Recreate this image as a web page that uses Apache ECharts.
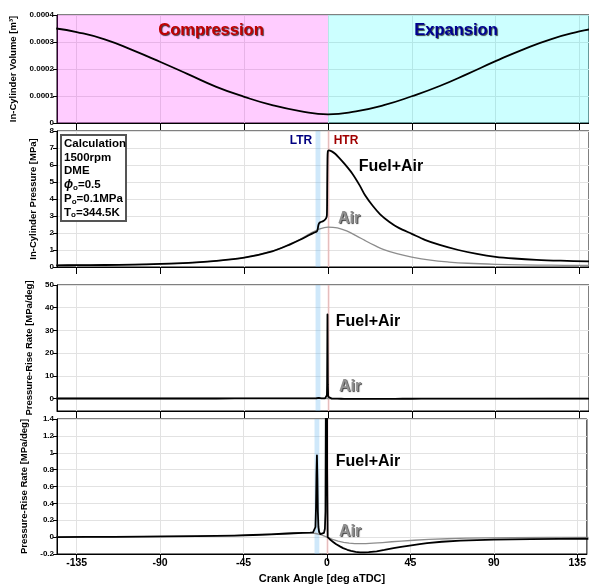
<!DOCTYPE html>
<html>
<head>
<meta charset="utf-8">
<script src="https://cdn.jsdelivr.net/npm/echarts@6/dist/echarts.min.js"></script>
<style>
  html, body { margin: 0; padding: 0; background: #fff; }
  #chart { width: 589px; height: 585px; }
</style>
</head>
<body>
<div id="chart"></div>
<script>
// ---- Crank-angle axis ----
const xTicks = [-135, -90, -45, 0, 45, 90, 135];

// ---- In-cylinder volume [m3] ----
const volAngle = [-146, -135, -120, -105, -90, -75, -60, -45, -30, -15, 0, 15, 30, 45, 60, 75, 90, 105, 120, 135, 141];
const volume   = [0.000350, 0.000337, 0.000310, 0.000270, 0.000226, 0.000180, 0.000134, 0.000097, 0.000066, 0.000044, 0.000032,
                  0.000043, 0.000066, 0.000099, 0.000137, 0.000182, 0.000229, 0.000273, 0.000311, 0.000339, 0.000347];

// ---- In-cylinder pressure [MPa] ----
const pFuelAngle = [-146, -135, -120, -105, -90, -75, -60, -45, -30, -20, -15, -10, -7, -6, -5.6, -5.2, -4.8, -4, -3, -2, -1, -0.6, -0.45, -0.3, -0.1,
                    0.4, 2, 4, 6, 9, 13, 17, 20, 24, 28, 33, 38, 45, 52, 60, 70, 80, 90, 100, 112, 125, 141];
const pFuel      = [0.10, 0.105, 0.117, 0.141, 0.18, 0.245, 0.36, 0.55, 0.92, 1.35, 1.6, 1.88, 2.04, 2.1, 2.2, 2.45, 2.58, 2.64, 2.68, 2.74, 2.88, 3.05, 4.6, 6.3, 6.8,
                    6.86, 6.8, 6.65, 6.42, 6.05, 5.5, 4.8, 4.2, 3.6, 3.1, 2.65, 2.3, 1.95, 1.6, 1.3, 1.0, 0.77, 0.6, 0.5, 0.42, 0.37, 0.33];
const pAirAngle  = [-146, -135, -120, -105, -90, -75, -60, -45, -30, -20, -15, -10, -5, 0, 5, 10, 15, 20, 25, 30, 37, 45, 55, 65, 75, 90, 105, 120, 141];
const pAir       = [0.10, 0.105, 0.117, 0.141, 0.18, 0.245, 0.36, 0.55, 0.93, 1.37, 1.63, 1.95, 2.22, 2.35, 2.3, 2.12, 1.85, 1.55, 1.27, 1.02, 0.78, 0.58, 0.40, 0.29, 0.22, 0.16, 0.125, 0.105, 0.09];

// ---- Pressure-rise rate [MPa/deg] ----
const rFuelAngle = [-146, -130, -115, -100, -85, -70, -60, -50, -40, -30, -24, -18, -13, -9, -7.5, -6.6, -6.2, -5.9, -5.65, -5.4, -5.15, -4.9, -4.6, -4.2, -3.5, -2.5, -1.6, -1.1, -0.8, -0.6, -0.5, -0.4, -0.3, -0.2, -0.1, 0.1, 0.4,
                    1, 2, 3.5, 5, 7, 8.7, 11, 13, 15.5, 17.8, 20, 22.5, 26.8, 31, 35.9, 40, 44.6, 50, 54, 62, 72, 81, 90, 100, 110, 125, 141];
const rFuel      = [0.0, 0.002, 0.004, 0.006, 0.008, 0.011, 0.014, 0.018, 0.025, 0.033, 0.04, 0.046, 0.051, 0.054, 0.056, 0.065, 0.12, 0.35, 0.75, 0.97, 0.7, 0.3, 0.12, 0.06, 0.035, 0.035, 0.05, 0.1, 0.3, 1.5, 6, 20, 37, 20, 6, 0.8, 0.0,
                    -0.015, -0.035, -0.06, -0.085, -0.11, -0.13, -0.15, -0.163, -0.174, -0.18, -0.18, -0.177, -0.168, -0.152, -0.13, -0.115, -0.10, -0.083, -0.07, -0.055, -0.042, -0.035, -0.03, -0.027, -0.024, -0.021, -0.019];
const rAirAngle  = [-146, -130, -115, -100, -85, -70, -60, -50, -40, -30, -24, -18, -13, -9, -6, -3, 0, 3, 6, 9, 12, 15, 18, 21, 25, 30, 35, 40, 47, 55, 65, 75, 87, 100, 120, 141];
const rAir       = [0.0, 0.002, 0.004, 0.005, 0.008, 0.011, 0.014, 0.018, 0.025, 0.034, 0.04, 0.046, 0.05, 0.05, 0.043, 0.026, 0.0, -0.026, -0.047, -0.062, -0.072, -0.077, -0.078, -0.077, -0.072, -0.064, -0.055, -0.047, -0.037, -0.027, -0.019, -0.013, -0.009, -0.007, -0.004, -0.003];

// ---- Reaction windows [deg aTDC] ----
const ltrWindow = [-6.7, -4.1];
const htrWindow = [-0.2, 0.8];
const strokeSplit = [-146, 0, 141];

const pairs = (xs, ys) => xs.map((x, i) => [x, ys[i]]);

const FONT = '"Liberation Sans", Arial, sans-serif';
const X_MIN = -145.6, X_MAX = 140.2;

const grids = [
  { left: 57, top: 15,  width: 533, height: 108 },
  { left: 57, top: 131, width: 533, height: 136 },
  { left: 57, top: 285, width: 533, height: 126 },
  { left: 57, top: 419, width: 533, height: 137 }
].map(g => Object.assign({ show: true, borderColor: '#000', borderWidth: 1, backgroundColor: 'transparent' }, g));

const xAxes = grids.map((g, i) => ({
  type: 'value', gridIndex: i, min: X_MIN, max: X_MAX,
  axisLine: { show: true, onZero: false, lineStyle: { color: '#000', width: 1 } },
  axisTick: { show: true, inside: false, length: 7, customValues: xTicks, lineStyle: { color: '#000' } },
  axisLabel: {
    show: i === 3, customValues: xTicks, color: '#000', fontFamily: FONT, fontWeight: 'bold', fontSize: 10.5, margin: 4
  },
  splitLine: { show: true, lineStyle: { color: '#e2e2e2', width: 1 } },
  name: i === 3 ? 'Crank Angle [deg aTDC]' : '',
  nameLocation: 'middle', nameGap: 19,
  nameTextStyle: { color: '#000', fontFamily: FONT, fontWeight: 'bold', fontSize: 11 }
}));

const yName = { color: '#000', fontFamily: FONT, fontWeight: 'bold', fontSize: 9.5 };
const yLabel = { color: '#000', fontFamily: FONT, fontWeight: 'bold', fontSize: 8, margin: 3 };
const yCommon = (i) => ({
  type: 'value', gridIndex: i,
  axisLine: { show: true, onZero: false, lineStyle: { color: '#000' } },
  axisTick: { show: true, inside: false, length: 4, lineStyle: { color: '#000' } },
  splitLine: { show: true, lineStyle: { color: '#e2e2e2', width: 1 } },
  nameLocation: 'middle', nameRotate: 90, nameTextStyle: yName
});

const yAxes = [
  Object.assign(yCommon(0), {
    min: 0, max: 0.0004, interval: 0.0001,
    name: 'In-Cylinder Volume [m³]', nameGap: 37,
    axisLabel: Object.assign({}, yLabel, { formatter: v => v === 0 ? '0' : v.toFixed(4) })
  }),
  Object.assign(yCommon(1), {
    min: 0, max: 8, interval: 1,
    name: 'In-Cylinder Pressure [MPa]', nameGap: 14,
    axisLabel: yLabel
  }),
  Object.assign(yCommon(2), {
    min: -5.5, max: 50,
    name: 'Pressure-Rise Rate [MPa/deg]', nameGap: 15,
    axisTick: { show: true, inside: false, length: 4, customValues: [0, 10, 20, 30, 40, 50], lineStyle: { color: '#000' } },
    axisLabel: Object.assign({}, yLabel, { customValues: [0, 10, 20, 30, 40, 50] })
  }),
  Object.assign(yCommon(3), {
    min: -0.2, max: 1.4, interval: 0.2,
    name: 'Pressure-Rise Rate [MPa/deg]', nameGap: 22,
    axisLabel: Object.assign({}, yLabel, { formatter: v => String(Math.round(v * 10) / 10) })
  })
];

const bandAreas = {
  silent: true,
  data: [
    [{ xAxis: ltrWindow[0], itemStyle: { color: 'rgba(110,185,240,0.33)' } }, { xAxis: ltrWindow[1] }],
    [{ xAxis: htrWindow[0], itemStyle: { color: 'rgba(235,120,120,0.35)' } }, { xAxis: htrWindow[1] }]
  ]
};

const line = (gi, data, color, width, extra) => Object.assign({
  type: 'line', xAxisIndex: gi, yAxisIndex: gi, data,
  showSymbol: false, symbol: 'none', smooth: false,
  lineStyle: { color, width, join: 'round' }, clip: true, animation: false
}, extra || {});

const series = [
  line(0, pairs(volAngle, volume), '#000', 1.8, {
    smooth: 0.5,
    markArea: {
      silent: true,
      data: [
        [{ xAxis: strokeSplit[0], itemStyle: { color: 'rgba(255,0,255,0.2)' } }, { xAxis: strokeSplit[1] }],
        [{ xAxis: strokeSplit[1], itemStyle: { color: 'rgba(0,255,255,0.2)' } }, { xAxis: strokeSplit[2] }]
      ]
    }
  }),
  line(1, pairs(pAirAngle, pAir), '#8c8c8c', 1.3, { smooth: 0.4, markArea: bandAreas }),
  line(1, pairs(pFuelAngle, pFuel), '#000', 1.8, { smooth: 0.3 }),
  line(2, pairs(rAirAngle, rAir), '#8c8c8c', 1.3, { markArea: bandAreas }),
  line(2, pairs(rFuelAngle, rFuel), '#000', 1.8),
  line(3, pairs(rAirAngle, rAir), '#8c8c8c', 1.3, { markArea: bandAreas }),
  line(3, pairs(rFuelAngle, rFuel), '#000', 1.8)
];

// Text annotations
const label = (x, y, text, fill, size, shadow) => ({
  type: 'text', x, y, z: 100,
  style: Object.assign({
    text, fill, font: 'bold ' + size + 'px ' + FONT, align: 'center', verticalAlign: 'middle'
  }, shadow ? { textShadowColor: 'rgba(0,0,0,0.75)', textShadowBlur: 1, textShadowOffsetX: 1, textShadowOffsetY: 1 } : {})
});

const graphic = [
  label(211, 30, 'Compression', '#c00000', 16.5, true),
  label(456, 30, 'Expansion', '#000090', 16.5, true),
  label(301, 141, 'LTR', '#000080', 12, false),
  label(346, 141, 'HTR', '#a00000', 12, false),
  label(391, 167, 'Fuel+Air', '#000', 16, false),
  label(349, 219, 'Air', '#909090', 16, true),
  label(368, 322, 'Fuel+Air', '#000', 16, false),
  label(350, 387, 'Air', '#909090', 16, true),
  label(368, 462, 'Fuel+Air', '#000', 16, false),
  label(350, 532, 'Air', '#909090', 16, true),
  {
    type: 'rect', z: 100,
    shape: { x: 61, y: 135, width: 65, height: 86 },
    style: { fill: '#fff', stroke: '#555', lineWidth: 2 }
  },
  {
    type: 'text', x: 64, y: 137, z: 101,
    style: {
      text: 'Calculation\n1500rpm\nDME\n{phi|ϕ}{s|o}=0.5\nP{s|o}=0.1MPa\nT{s|o}=344.5K',
      font: 'bold 11.5px ' + FONT, fill: '#000', lineHeight: 13.7,
      align: 'left', verticalAlign: 'top',
      rich: {
        phi: { fontFamily: FONT, fontWeight: 'bold', fontStyle: 'italic', fontSize: 12, lineHeight: 13.7 },
        s: { fontFamily: FONT, fontWeight: 'bold', fontSize: 8, verticalAlign: 'bottom', lineHeight: 13.7, padding: [4, 0, 0, 0] }
      }
    }
  }
];

const chart = echarts.init(document.getElementById('chart'), null, { renderer: 'canvas' });
chart.setOption({
  animation: false,
  backgroundColor: '#fff',
  grid: grids,
  xAxis: xAxes,
  yAxis: yAxes,
  series,
  graphic
});
</script>
</body>
</html>
